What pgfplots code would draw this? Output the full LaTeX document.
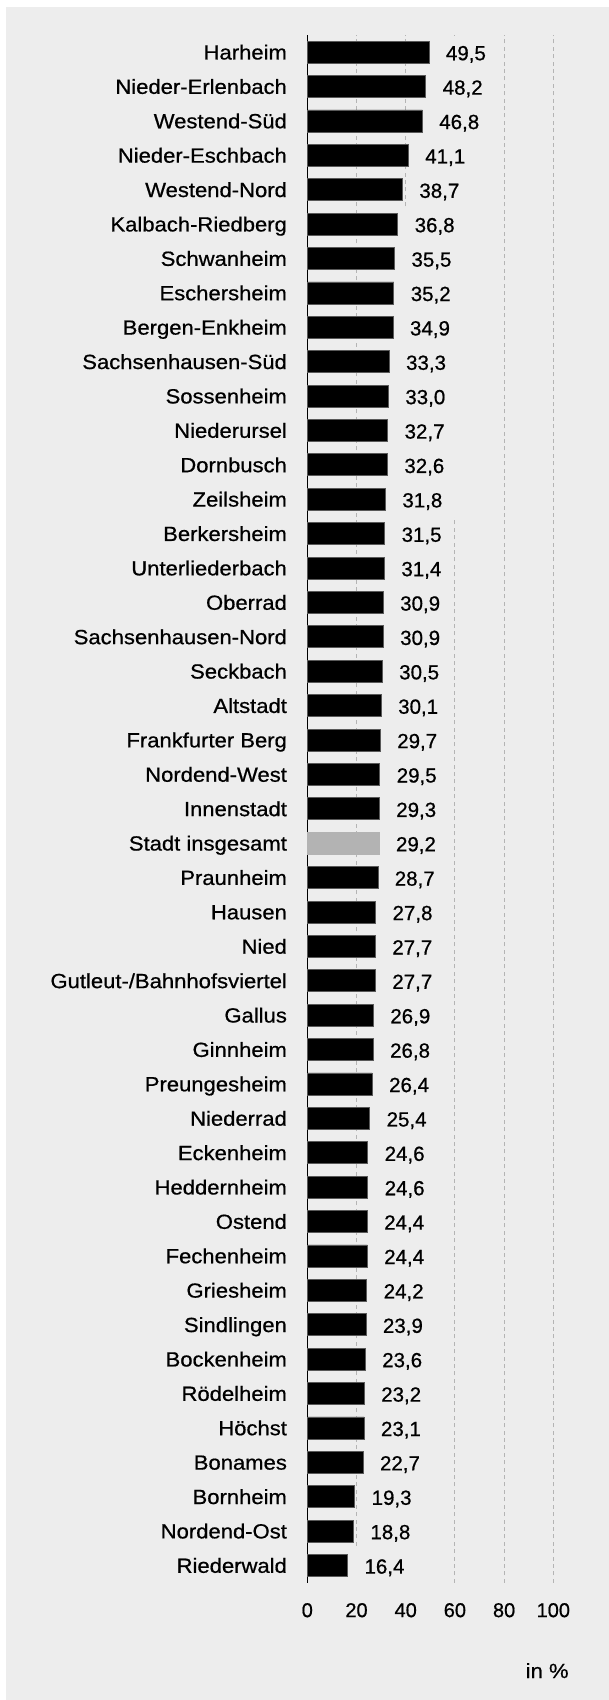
\documentclass[border=0pt]{standalone}
\usepackage{fontspec}
\setmainfont[FakeBold=0.7]{Liberation Sans}
\newfontfamily\catfont[FakeStretch=1.075,FakeBold=0.7]{Liberation Sans}
\newfontfamily\numfont[FakeBold=0.7]{Liberation Sans}
\usepackage{pgfplots}
\usepackage{pgfplotstable}
\pgfplotsset{compat=1.18}
\definecolor{bg}{HTML}{EDEDED}
\definecolor{gridc}{HTML}{B4B4B4}
\definecolor{stadt}{HTML}{B3B3B3}
\newcommand\catf{\catfont\fontsize{10.25pt}{12pt}\selectfont}
\newcommand\valf{\numfont\fontsize{10.25pt}{12pt}\selectfont}
\newcommand\tickf{\numfont\fontsize{10pt}{12pt}\selectfont}

\pgfplotstableread{
pos v lab
44 49.5 49,5
43 48.2 48,2
42 46.8 46,8
41 41.1 41,1
40 38.7 38,7
39 36.8 36,8
38 35.5 35,5
37 35.2 35,2
36 34.9 34,9
35 33.3 33,3
34 33.0 33,0
33 32.7 32,7
32 32.6 32,6
31 31.8 31,8
30 31.5 31,5
29 31.4 31,4
28 30.9 30,9
27 30.9 30,9
26 30.5 30,5
25 30.1 30,1
24 29.7 29,7
23 29.5 29,5
22 29.3 29,3
20 28.7 28,7
19 27.8 27,8
18 27.7 27,7
17 27.7 27,7
16 26.9 26,9
15 26.8 26,8
14 26.4 26,4
13 25.4 25,4
12 24.6 24,6
11 24.6 24,6
10 24.4 24,4
9 24.4 24,4
8 24.2 24,2
7 23.9 23,9
6 23.6 23,6
5 23.2 23,2
4 23.1 23,1
3 22.7 22,7
2 19.3 19,3
1 18.8 18,8
0 16.4 16,4
}\districts

\pgfplotstableread{
pos v lab
21 29.2 29,2
}\stadttab

\begin{document}
\begin{tikzpicture}
\useasboundingbox (-153.65pt,-58.65pt) rectangle (150.85pt,791.35pt);
\fill[white] (-153.65pt,-58.65pt) rectangle (150.85pt,791.35pt);
\fill[bg] (-150.65pt,-58.65pt) rectangle (150.85pt,787.85pt);
\begin{axis}[
  at={(0,0)}, anchor=south west,
  scale only axis,
  width=123pt, height=773.85pt,
  xmin=0, xmax=100, ymin=-0.5, ymax=44.5,
  axis x line*=bottom, axis y line*=left,
  x axis line style={draw=none},
  y axis line style={draw=black, line width=0.65pt},
  major tick length=0pt,
  xtick={0,20,40,60,80,100},
  ytick={0,...,44},
  yticklabels={Riederwald, Nordend-Ost, Bornheim, Bonames, Höchst, Rödelheim, Bockenheim, Sindlingen, Griesheim, Fechenheim, Ostend, Heddernheim, Eckenheim, Niederrad, Preungesheim, Ginnheim, Gallus, Gutleut-/Bahnhofsviertel, Nied, Hausen, Praunheim, Stadt insgesamt, Innenstadt, Nordend-West, Frankfurter Berg, Altstadt, Seckbach, Sachsenhausen-Nord, Oberrad, Unterliederbach, Berkersheim, Zeilsheim, Dornbusch, Niederursel, Sossenheim, Sachsenhausen-Süd, Bergen-Enkheim, Eschersheim, Schwanheim, Kalbach-Riedberg, Westend-Nord, Nieder-Eschbach, Westend-Süd, Nieder-Erlenbach, Harheim},
  /pgf/number format/assume math mode=true,
  yticklabel style={font=\catf, anchor=east, inner sep=0pt, text height=7.3pt, text depth=0pt, xshift=-10pt},
  xticklabel style={font=\tickf, anchor=center, inner sep=0pt, text height=7.1pt, text depth=0pt, yshift=-13.65pt},
  xmajorgrids,
  grid style={gridc, line width=0.5pt, dash pattern=on 2pt off 1.7pt},
  clip=false,
  point meta=explicit symbolic,
  nodes near coords,
  every node near coord/.append style={anchor=west, font=\valf, fill=bg, inner xsep=6.25pt, inner ysep=0pt, text height=7.3pt, text depth=0pt, minimum height=17.2pt, xshift=2pt, yshift=-0.4pt, text=black},
]
\addplot[xbar, bar width=11pt, bar shift=0pt, fill=black, draw=black!65, line width=0.4pt]
  table[x=v, y=pos, meta=lab]{\districts};
\addplot[xbar, bar width=11pt, bar shift=0pt, fill=stadt, draw=stadt, line width=0.4pt]
  table[x=v, y=pos, meta=lab]{\stadttab};
\end{axis}
\node[anchor=east, inner sep=0pt, text height=7.3pt, text depth=0pt, font=\catf] at (130.85pt,-44pt) {in \%};
\end{tikzpicture}
\end{document}
